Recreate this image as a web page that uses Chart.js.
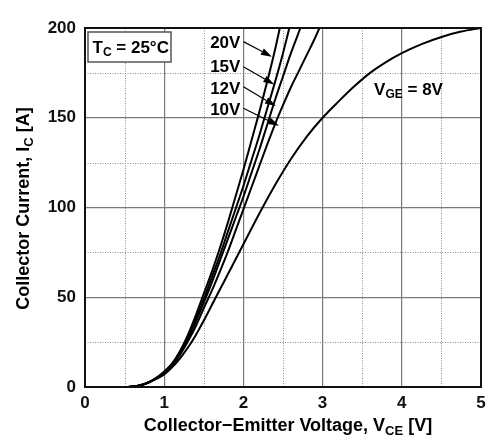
<!DOCTYPE html>
<html>
<head>
<meta charset="utf-8">
<script src="https://cdn.jsdelivr.net/npm/chart.js@4.4.1/dist/chart.umd.min.js"></script>
<style>
  html, body { margin: 0; padding: 0; background: #fff; }
  #wrap { width: 500px; height: 446px; }
</style>
</head>
<body>
<div id="wrap"><canvas id="icChart"></canvas></div>
<script>
// Ic vs Vce, Tc = 25C, one curve per gate voltage
var vce20 = [0, 0.5, 0.6, 0.7, 0.8, 0.9, 1.0, 1.1, 1.2, 1.3, 1.4, 1.5, 1.6, 1.7, 1.8, 1.9, 2.0, 2.1, 2.2, 2.3, 2.4, 2.46];
var ic20  = [0, 0, 0.3, 1, 2.5, 5, 8.5, 13, 20, 29, 40, 52, 64, 77, 91, 106, 121, 137, 153, 170, 188, 200];

var vce15 = [0, 0.5, 0.6, 0.7, 0.8, 0.9, 1.0, 1.1, 1.2, 1.3, 1.4, 1.5, 1.6, 1.7, 1.8, 1.9, 2.0, 2.1, 2.2, 2.3, 2.4, 2.5, 2.58];
var ic15  = [0, 0, 0.3, 1, 2.5, 5, 8.5, 13, 19.5, 28, 38, 49, 61, 73, 86, 99, 112, 126, 140, 155, 170, 186, 200];

var vce12 = [0, 0.5, 0.6, 0.7, 0.8, 0.9, 1.0, 1.1, 1.2, 1.3, 1.4, 1.5, 1.6, 1.7, 1.8, 1.9, 2.0, 2.1, 2.2, 2.3, 2.4, 2.5, 2.6, 2.72];
var ic12  = [0, 0, 0.3, 1, 2.5, 5, 8, 12.5, 19, 27, 36.5, 47, 58, 70, 82, 94, 106, 119, 132, 146, 160, 173, 186, 200];

var vce10 = [0, 0.5, 0.6, 0.7, 0.8, 0.9, 1.0, 1.1, 1.2, 1.3, 1.4, 1.5, 1.6, 1.7, 1.8, 1.9, 2.0, 2.1, 2.2, 2.3, 2.4, 2.5, 2.6, 2.7, 2.8, 2.9, 2.96];
var ic10  = [0, 0, 0.3, 1, 2.5, 5, 8, 12, 18, 25.5, 34, 44, 53.5, 64, 75, 87, 99, 111, 123, 135, 146.5, 157, 167, 176, 185, 194, 200];

var vce8 = [0, 0.5, 0.6, 0.7, 0.8, 0.9, 1.0, 1.1, 1.2, 1.3, 1.4, 1.5, 1.6, 1.7, 1.8, 1.9, 2.0, 2.2, 2.4, 2.6, 2.8, 3.0, 3.2, 3.4, 3.6, 3.8, 4.0, 4.25, 4.5, 4.75, 5.0];
var ic8  = [0, 0, 0.3, 1, 2.4, 4.5, 7, 11, 16, 22, 29, 37, 45.5, 54, 62.5, 71, 79.5, 96.5, 112.5, 127, 139.5, 150, 159, 167.5, 175, 181, 186, 191, 195, 198, 200];

var xTicks = [0, 1, 2, 3, 4, 5];
var yTicks = [0, 50, 100, 150, 200];
var xMinor = [0.5, 1.5, 2.5, 3.5, 4.5];
var yMinor = [25, 75, 125, 175];

var gateLabels = ["20V", "15V", "12V", "10V"];

var FONT = "'Liberation Sans', Arial, Helvetica, sans-serif";

function zip(xs, ys) {
  return xs.map(function (x, i) { return { x: x, y: ys[i] }; });
}

function curve(xs, ys) {
  return {
    data: zip(xs, ys),
    borderColor: "#000",
    borderWidth: 2,
    pointRadius: 0,
    fill: false,
    cubicInterpolationMode: "monotone",
  };
}

// text with subscripts: parts = [[text, isSub], ...]
function richText(ctx, parts, x, y, size, align) {
  var subSize = Math.round(size * 0.7);
  var w = 0;
  parts.forEach(function (p) {
    ctx.font = "bold " + (p[1] ? subSize : size) + "px " + FONT;
    w += ctx.measureText(p[0]).width;
  });
  var cx = align === "center" ? x - w / 2 : x;
  ctx.textAlign = "left";
  ctx.textBaseline = "alphabetic";
  parts.forEach(function (p) {
    ctx.font = "bold " + (p[1] ? subSize : size) + "px " + FONT;
    ctx.fillText(p[0], cx, p[1] ? y + size * 0.2 : y);
    cx += ctx.measureText(p[0]).width;
  });
}

function arrow(ctx, x1, y1, x2, y2) {
  var ang = Math.atan2(y2 - y1, x2 - x1);
  var len = 11, half = 3.5;
  ctx.beginPath();
  ctx.moveTo(x1, y1);
  ctx.lineTo(x2 - len * Math.cos(ang), y2 - len * Math.sin(ang));
  ctx.stroke();
  ctx.beginPath();
  ctx.moveTo(x2, y2);
  ctx.lineTo(x2 - len * Math.cos(ang) + half * Math.sin(ang), y2 - len * Math.sin(ang) - half * Math.cos(ang));
  ctx.lineTo(x2 - len * Math.cos(ang) - half * Math.sin(ang), y2 - len * Math.sin(ang) + half * Math.cos(ang));
  ctx.closePath();
  ctx.fill();
}

// label anchors and arrow ends in data units (V, A)
var labelAt = [[1.58, 188.7], [1.58, 175.7], [1.58, 163.2], [1.58, 151.5]];
var arrowFrom = [[2.0, 192.4], [2.0, 178.4], [2.0, 167.3], [2.0, 155.3]];
var arrowTo = [[2.36, 184], [2.39, 168.5], [2.41, 156.5], [2.45, 145.5]];

var minorGrid = {
  id: "minorGrid",
  beforeDatasetsDraw: function (chart) {
    var ctx = chart.ctx, a = chart.chartArea, sx = chart.scales.x, sy = chart.scales.y;
    ctx.save();
    ctx.strokeStyle = "#8c8c8c";
    ctx.lineWidth = 1;
    ctx.setLineDash([1, 1.5]);
    xMinor.forEach(function (v) {
      var px = Math.round(sx.getPixelForValue(v)) + 0.5;
      ctx.beginPath(); ctx.moveTo(px, a.top); ctx.lineTo(px, a.bottom); ctx.stroke();
    });
    yMinor.forEach(function (v) {
      var py = Math.round(sy.getPixelForValue(v)) + 0.5;
      ctx.beginPath(); ctx.moveTo(a.left, py); ctx.lineTo(a.right, py); ctx.stroke();
    });
    ctx.restore();
  },
};

var notes = {
  id: "notes",
  afterDraw: function (chart) {
    var ctx = chart.ctx, a = chart.chartArea, sx = chart.scales.x, sy = chart.scales.y;
    ctx.save();
    // frame
    ctx.strokeStyle = "#111";
    ctx.lineWidth = 2;
    ctx.strokeRect(a.left, a.top, a.right - a.left, a.bottom - a.top);

    // Tc box
    ctx.fillStyle = "#fff";
    ctx.fillRect(a.left + 3, a.top + 4, 83, 30);
    ctx.strokeStyle = "#555";
    ctx.lineWidth = 1.5;
    ctx.strokeRect(a.left + 3, a.top + 4, 83, 30);
    ctx.fillStyle = "#000";
    richText(ctx, [["T", false], ["C", true], [" = 25°C", false]], a.left + 7.5, a.top + 25, 17);

    // gate voltage labels with arrows
    ctx.strokeStyle = "#000";
    ctx.lineWidth = 1.2;
    gateLabels.forEach(function (t, i) {
      richText(ctx, [[t, false]], sx.getPixelForValue(labelAt[i][0]), sy.getPixelForValue(labelAt[i][1]), 17);
      arrow(ctx,
        sx.getPixelForValue(arrowFrom[i][0]), sy.getPixelForValue(arrowFrom[i][1]),
        sx.getPixelForValue(arrowTo[i][0]), sy.getPixelForValue(arrowTo[i][1]));
    });
    richText(ctx, [["V", false], ["GE", true], [" = 8V", false]], sx.getPixelForValue(3.65), sy.getPixelForValue(162.7), 17);

    // axis titles
    richText(ctx, [["Collector\u2212Emitter Voltage, V", false], ["CE", true], [" [V]", false]],
      (a.left + a.right) / 2 + 5, chart.height - 15, 18, "center");
    ctx.translate(29, (a.top + a.bottom) / 2 + 1);
    ctx.rotate(-Math.PI / 2);
    richText(ctx, [["Collector Current, I", false], ["C", true], [" [A]", false]], 0, 0, 18, "center");
    ctx.restore();
  },
};

var ctx = document.getElementById("icChart").getContext("2d");
var icChart = new Chart(ctx, {
  type: "line",
  data: {
    datasets: [
      curve(vce20, ic20),
      curve(vce15, ic15),
      curve(vce12, ic12),
      curve(vce10, ic10),
      curve(vce8, ic8),
    ],
  },
  options: {
    responsive: true,
    maintainAspectRatio: false,
    animation: false,
    layout: { padding: { top: 28, right: 19, left: 0, bottom: 0 } },
    plugins: {
      legend: { display: false },
      tooltip: { enabled: false },
    },
    scales: {
      x: {
        type: "linear",
        min: 0,
        max: 5,
        afterBuildTicks: function (s) { s.ticks = xTicks.map(function (v) { return { value: v }; }); },
        afterFit: function (s) { s.height = 59; },
        ticks: { color: "#111", padding: 6, font: { family: FONT, size: 17, weight: "bold" } },
        grid: { color: "#7a7a7a", lineWidth: 1.2, drawTicks: false },
        border: { color: "#111", width: 2 },
      },
      y: {
        min: 0,
        max: 200,
        afterBuildTicks: function (s) { s.ticks = yTicks.map(function (v) { return { value: v }; }); },
        afterFit: function (s) { s.width = 85; },
        ticks: { color: "#111", padding: 9, font: { family: FONT, size: 17, weight: "bold" } },
        grid: { color: "#7a7a7a", lineWidth: 1.2, drawTicks: false },
        border: { color: "#111", width: 2 },
      },
    },
  },
  plugins: [minorGrid, notes],
});
</script>
</body>
</html>
